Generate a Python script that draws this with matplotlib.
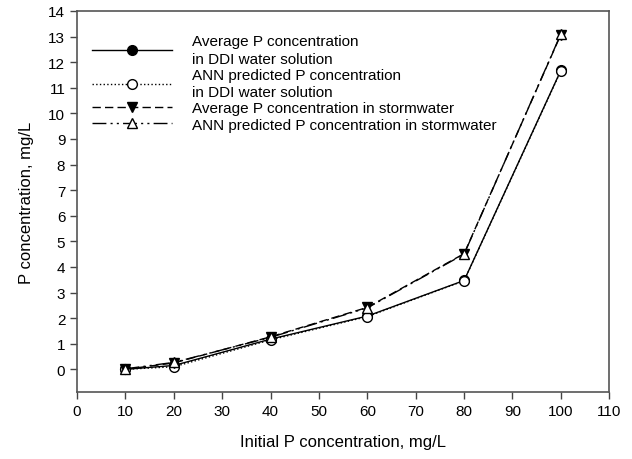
import matplotlib.pyplot as plt

plt.rcParams['font.family'] = ['Liberation Sans', 'DejaVu Sans']

x = [10, 20, 40, 60, 80, 100]
avg_ddi = [0.0, 0.15, 1.18, 2.08, 3.47, 11.68]
ann_ddi = [0.0, 0.1, 1.15, 2.06, 3.46, 11.66]
avg_storm = [0.0, 0.25, 1.27, 2.42, 4.52, 13.08]
ann_storm = [0.02, 0.27, 1.25, 2.4, 4.5, 13.1]

labels = ['Average P concentration\nin DDI water solution',
          'ANN predicted P concentration\nin DDI water solution',
          'Average P concentration in stormwater',
          'ANN predicted P concentration in stormwater']

fig = plt.figure(figsize=(6.32, 4.6), dpi=100)
ax = fig.add_axes([0.122, 0.146, 0.842, 0.828])

ax.plot(x, avg_ddi, color='black', lw=1, ls='-', marker='o', ms=7,
        mfc='black', mec='black', label=labels[0], zorder=3)
ax.plot(x, ann_ddi, color='black', lw=1, ls=':', marker='o', ms=7,
        mfc='white', mec='black', label=labels[1], zorder=4)
ax.plot(x, avg_storm, color='black', lw=1, ls=(0, (6, 3)), marker='v', ms=7,
        mfc='black', mec='black', label=labels[2], zorder=5)
ax.plot(x, ann_storm, color='black', lw=1, ls=(0, (10, 3, 1.5, 3, 1.5, 3)),
        marker='^', ms=7, mfc='white', mec='black', label=labels[3], zorder=6)

ax.set_xlim(0, 110)
ax.set_ylim(-0.88, 14)
ax.set_xticks(range(0, 111, 10))
ax.set_yticks(range(0, 15))
ax.tick_params(labelsize=11, length=5, width=1, color='#444444', direction='out')
for s in ax.spines.values():
    s.set_color('#555555')
    s.set_linewidth(1.2)

ax.set_xlabel('Initial P concentration, mg/L', fontsize=12, labelpad=12)
ax.set_ylabel('P concentration, mg/L', fontsize=12, labelpad=10)

leg = ax.legend(loc='upper left', bbox_to_anchor=(0.017, 0.955), frameon=False,
                fontsize=11, handlelength=5.2, handletextpad=1.3,
                labelspacing=0.15, borderaxespad=0)
for t in leg.get_texts():
    t.set_linespacing(1.3)

fig.savefig('out.png', dpi=100)
